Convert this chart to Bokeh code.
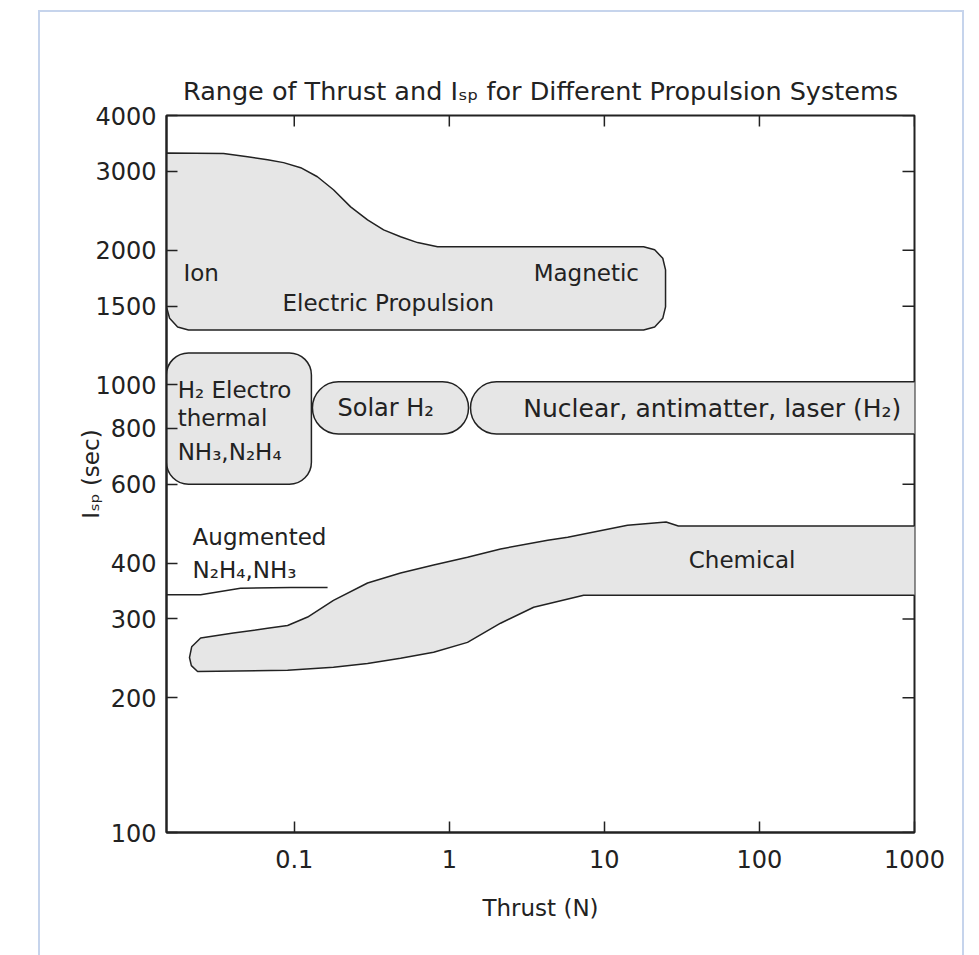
import math
from bokeh.plotting import figure
from bokeh.models import FixedTicker, CustomJSTickFormatter, Range1d
from bokeh.core.properties import value
from bokeh.embed import file_html
from bokeh.resources import INLINE

FONT = "DejaVu Sans"
INK = "#222222"
FILL = "#e6e6e6"

# ---- axes ----
x_ticks = [0.1, 1, 10, 100, 1000]
y_ticks = [100, 200, 300, 400, 600, 800, 1000, 1500, 2000, 3000, 4000]
x_min, x_max = 0.015, 1000
y_min, y_max = 100, 4000

# ---- Electric propulsion region (outline, thrust N / Isp s) ----
electric_thrust = [0.015, 0.035, 0.05, 0.0673, 0.0853, 0.110, 0.141, 0.179, 0.231, 0.297, 0.377,
                   0.485, 0.624, 0.84,
                   17.9, 21.1, 23.8, 24.8, 24.8, 23.8, 21.1, 17.9,
                   0.0208, 0.0177, 0.0157, 0.015]
electric_isp = [3300, 3290, 3236, 3187, 3139, 3058, 2919, 2730, 2500, 2339, 2221,
                2143, 2080, 2037,
                2037, 2004, 1919, 1807, 1494, 1409, 1348, 1327,
                1327, 1348, 1409, 1494]

# ---- Chemical region ----
chemical_thrust = [0.0211, 0.0218, 0.0249, 0.0405, 0.0673, 0.0906, 0.122, 0.179, 0.297, 0.485, 0.792,
                   1.31, 2.14, 4.31, 5.8, 14.1, 25, 30, 1500,
                   1500, 7.35, 3.5, 2.14, 1.31, 0.792, 0.485, 0.297, 0.179, 0.0906, 0.0238, 0.0217]
chemical_isp = [246, 260, 272, 279, 286, 290, 303, 330, 361, 380, 396,
                412, 430, 450, 457, 486, 494, 484, 484,
                339, 339, 318.6, 293.5, 266, 252.7, 245, 238.7, 233.9, 230.3, 229, 236]

# ---- Augmented N2H4, NH3 line ----
augmented_thrust = [0.015, 0.0249, 0.045, 0.095, 0.164]
augmented_isp = [340, 340, 351.5, 352.5, 352.5]

# ---- Rounded boxes ----
electrothermal = dict(left=[0.015], right=[0.129], bottom=[600], top=[1179])
pill_left = [0.131, 1.37]      # Solar H2, Nuclear
pill_right = [1.33, 2000]
pill_bottom = [777, 777]
pill_top = [1016, 1016]

# ---- In-plot labels ----
label_text = ["Ion", "Electric Propulsion", "Magnetic", "H\u2082 Electro", "thermal",
              "NH\u2083,N\u2082H\u2084", "Augmented", "N\u2082H\u2084,NH\u2083"]
label_thrust = [0.0193, 0.084, 3.5, 0.0177, 0.0177, 0.0177, 0.0221, 0.0221]
label_isp = [1781, 1524, 1781, 975, 844, 708, 457, 385]

big_text = ["Solar H\u2082", "Nuclear, antimatter, laser (H\u2082)", "Chemical"]
big_thrust = [0.19, 3.0, 35]
big_isp = [888, 888, 406]
big_size = ["24px", "25px", "23px"]

p = figure(x_axis_type="log", y_axis_type="log",
           x_range=Range1d(x_min, x_max), y_range=Range1d(y_min, y_max),
           frame_width=748, frame_height=717,
           min_border_left=126, min_border_right=48, min_border_top=103, min_border_bottom=123,
           output_backend="svg", toolbar_location=None,
           title="Range of Thrust and I\u209b\u209a for Different Propulsion Systems")
p.margin = (12, 0, 0, 40)
p.styles = {"outline": "2px solid #c6d4ec"}
p.background_fill_color = "white"
p.border_fill_color = "white"
p.grid.visible = False
p.outline_line_color = INK
p.outline_line_width = 2

p.title.align = "center"
p.title.text_font = FONT
p.title.text_font_size = "25.5px"
p.title.text_font_style = "normal"
p.title.text_color = INK
p.title.standoff = 20

fmt = CustomJSTickFormatter(code="return tick.toString();")

for ax, ticks in ((p.xaxis[0], x_ticks), (p.yaxis[0], y_ticks)):
    ax.ticker = FixedTicker(ticks=ticks)
    ax.formatter = fmt
    ax.major_tick_in = 11
    ax.major_tick_out = 0
    ax.minor_tick_line_color = None
    ax.major_tick_line_color = INK
    ax.major_tick_line_width = 1.5
    ax.axis_line_color = INK
    ax.axis_line_width = 2
    ax.major_label_text_font = FONT
    ax.major_label_text_font_size = "24px"
    ax.major_label_text_color = INK
    ax.axis_label_text_font = FONT
    ax.axis_label_text_font_size = "23px"
    ax.axis_label_text_font_style = "normal"
    ax.axis_label_text_color = INK

p.xaxis[0].axis_label = "Thrust (N)"
p.xaxis[0].major_label_standoff = 17
p.xaxis[0].axis_label_standoff = 24
p.yaxis[0].axis_label = "I\u209b\u209a (sec)"
p.yaxis[0].major_label_standoff = 10
p.yaxis[0].axis_label_standoff = -12

# mirrored inside ticks on the top and right edges (dash markers, half clipped by the frame)
p.scatter(x=x_ticks, y=[y_max] * len(x_ticks), marker="dash", size=22, angle=math.pi / 2,
          line_color=INK, line_width=1.5)
p.scatter(x=[x_max] * len(y_ticks), y=y_ticks, marker="dash", size=24,
          line_color=INK, line_width=1.5)

# regions
p.patch(electric_thrust, electric_isp, fill_color=FILL, line_color=INK, line_width=1.5)
p.patch(chemical_thrust, chemical_isp, fill_color=FILL, line_color=INK, line_width=1.5)
p.quad(left=electrothermal["left"], right=electrothermal["right"],
       bottom=electrothermal["bottom"], top=electrothermal["top"],
       border_radius=22, fill_color=FILL, line_color=INK, line_width=1.5)
p.quad(left=pill_left, right=pill_right, bottom=pill_bottom, top=pill_top,
       border_radius=26, fill_color=FILL, line_color=INK, line_width=1.5)
p.line(augmented_thrust, augmented_isp, line_color=INK, line_width=1.5)

p.text(x=label_thrust, y=label_isp, text=label_text,
       text_font=value(FONT), text_font_size="23px", text_color=INK,
       text_align="left", text_baseline="middle")
for t, xv, yv, fs in zip(big_text, big_thrust, big_isp, big_size):
    p.text(x=[xv], y=[yv], text=[t], text_font=value(FONT), text_font_size=fs,
           text_color=INK, text_align="left", text_baseline="middle")

open("out.html", "w").write(file_html(p, INLINE))
